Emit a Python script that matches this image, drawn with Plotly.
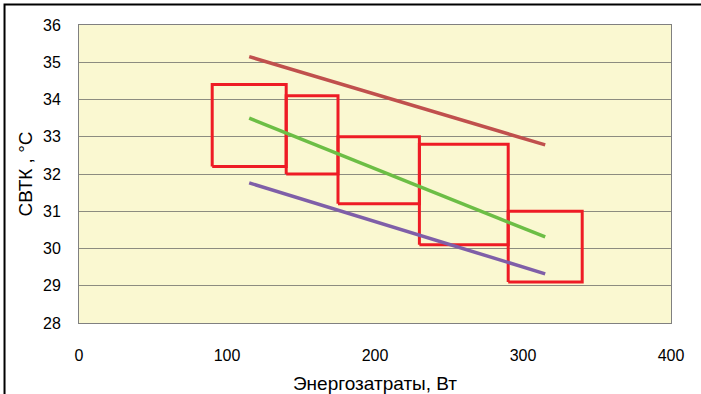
import plotly.graph_objects as go

# Regression lines (energy cost, W -> temperature, °C)
line_x = [115, 315]
upper_y = [35.15, 32.78]
middle_y = [33.50, 30.31]
lower_y = [31.76, 29.32]

# Rectangular ranges: x-interval and temperature interval
box_x0 = [90, 140, 175, 230, 290]
box_x1 = [140, 175, 230, 290, 340]
box_y0 = [32.2, 32.0, 31.2, 30.1, 29.1]
box_y1 = [34.4, 34.1, 33.0, 32.8, 31.0]

x_ticks = [0, 100, 200, 300, 400]
y_ticks = [28, 29, 30, 31, 32, 33, 34, 35, 36]

fig = go.Figure()

for x0, x1, y0, y1 in zip(box_x0, box_x1, box_y0, box_y1):
    fig.add_trace(go.Scatter(
        x=[x0, x1, x1, x0, x0], y=[y0, y0, y1, y1, y0],
        mode="lines", line=dict(color="#EE1C25", width=3),
        hoverinfo="skip", showlegend=False))

for ys, col in [(upper_y, "#C0504D"), (middle_y, "#6CBE45"), (lower_y, "#7F5FA8")]:
    fig.add_trace(go.Scatter(
        x=line_x, y=ys, mode="lines",
        line=dict(color=col, width=3.5), showlegend=False))

# Outer frame
fig.add_shape(type="rect", xref="paper", yref="paper",
              x0=-0.1258, x1=1.07, y0=-0.27, y1=1.0688,
              line=dict(color="black", width=2), layer="below")

fig.update_layout(
    width=701, height=394,
    margin=dict(l=79, r=30, t=25, b=71),
    paper_bgcolor="white",
    plot_bgcolor="#FAF8D1",
    font=dict(family="Liberation Sans, Arial, sans-serif", color="black", size=16),
    xaxis=dict(
        range=[0, 400], tickvals=x_ticks, showgrid=False, zeroline=False,
        showline=True, linecolor="#808080", linewidth=1, mirror=True,
        ticks="", ticklabelstandoff=18, tickfont=dict(size=16), automargin=False,
        title=dict(text="Энергозатраты, Вт", font=dict(size=19)),
    ),
    yaxis=dict(
        range=[28, 36], tickvals=y_ticks, showgrid=True, gridcolor="#8C8C80",
        gridwidth=1, zeroline=False,
        showline=True, linecolor="#808080", linewidth=1, mirror=True,
        ticks="", ticklabelstandoff=14, tickfont=dict(size=16), automargin=True,
        title=dict(text="СВТК , °С", font=dict(size=19), standoff=5),
    ),
)

fig.write_html("out.html")
